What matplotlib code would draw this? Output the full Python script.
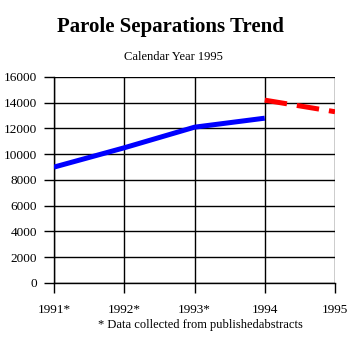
import matplotlib

matplotlib.use("Agg")
import matplotlib.pyplot as plt

# values
years = ["1991*", "1992*", "1993*", "1994", "1995"]
actual = [9000, 10500, 12100, 12800]
projected = [14200, 13300]
y_ticks = list(range(0, 16001, 2000))

plt.rcParams["font.family"] = ["Liberation Serif", "DejaVu Serif"]

fig = plt.figure(figsize=(3.58, 3.56), dpi=100)
ax = fig.add_axes([0.1508, 0.2051, 0.785, 0.5787])

x = list(range(len(years)))
ax.plot(x[:len(actual)], actual, color="#0000ff", lw=3.6, solid_capstyle="butt", zorder=3)
ax.plot(x[3:3 + len(projected)], projected, color="#ff0000", lw=3.6, dashes=(4.5, 2), zorder=3)

ax.set_xlim(0, len(years) - 1)
ax.set_ylim(0, 16000)
ax.set_xticks(x)
ax.set_xticklabels(years)
ax.set_yticks(y_ticks)
ax.grid(True, color="black", lw=1)
for side in ("top", "right"):
    ax.spines[side].set_visible(False)
for side in ("left", "bottom"):
    ax.spines[side].set_linewidth(1)
ax.tick_params(direction="out", length=7, width=1, labelsize=9.5, pad=5)
ax.tick_params(axis="x", pad=8)

fig.text(0.475, 0.924, "Parole Separations Trend", ha="center", va="center", fontsize=15, fontweight="bold")
fig.text(0.485, 0.84, "Calendar Year 1995", ha="center", va="center", fontsize=9)
fig.text(0.56, 0.088, "* Data collected from publishedabstracts", ha="center", va="center", fontsize=9)

fig.savefig("out.png", dpi=100)
